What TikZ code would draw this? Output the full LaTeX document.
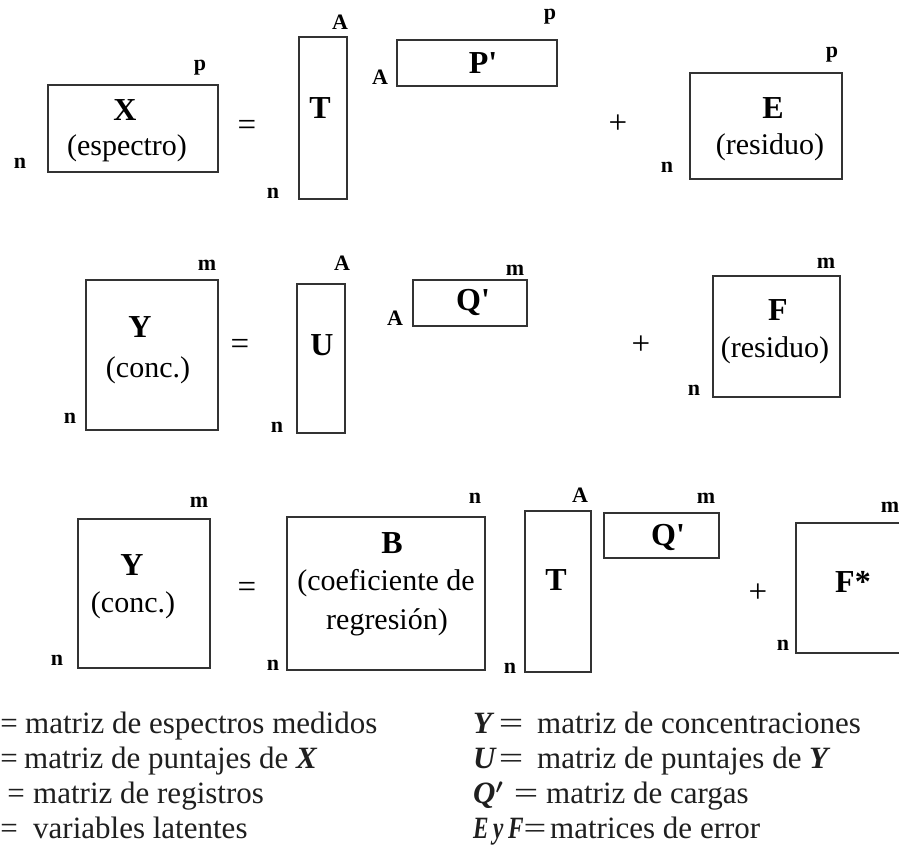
\documentclass[tikz,border=0pt]{standalone}
\usepackage{fontspec}
\setmainfont{Liberation Serif}
\begin{document}
\begin{tikzpicture}[x=1pt,y=-1pt,
  mat/.style={draw=black!80, line width=2.3pt, inner sep=0pt, rectangle},
  lbl/.style={font=\fontsize{22}{24}\selectfont\bfseries, inner sep=0pt},
  big/.style={font=\fontsize{32}{34}\selectfont\bfseries, inner sep=0pt},
  sub/.style={font=\fontsize{30}{32}\selectfont, inner sep=0pt},
  op/.style={font=\fontsize{33}{35}\selectfont, inner sep=0pt},
  leg/.style={font=\fontsize{31}{34}\selectfont, inner sep=0pt, anchor=base west, text=black!88},
  legeq/.style={font=\fontsize{31}{34}\selectfont, inner sep=0pt, anchor=base, text=black!88},
  sym/.style={font=\fontsize{31}{34}\selectfont\bfseries\itshape, inner sep=0pt, anchor=base west, text=black!88},
]
\useasboundingbox (0,0) rectangle (899,850);
\fill[white] (0,0) rectangle (899,850);
\clip (0,0) rectangle (899,850);

% ---------- Row 1 ----------
\node[mat, minimum width=170pt, minimum height=87pt] (X) at (133,128.5) {};
\node[big] (tX) at (125,110) {X};
\node[sub] (tXs) at (127,148) {(espectro)};
\node[lbl] (Xp) at (200,68) {p};
\node[lbl] (Xn) at (20,163) {n};
\node[op] (eq1) at (247,128) {=};

\node[mat, minimum width=48pt, minimum height=162pt] (T1) at (323,118) {};
\node[big] (tT1) at (320,108) {T};
\node[lbl] (T1A) at (340,22) {A};
\node[lbl] (T1n) at (273,193) {n};

\node[mat, minimum width=160pt, minimum height=46pt] (P) at (477,63) {};
\node[big] (tP) at (483,63) {P\textquotesingle};
\node[lbl] (PA) at (380,77) {A};
\node[lbl] (Pp) at (550,17) {p};

\node[op] (plus1) at (618,124) {+};

\node[mat, minimum width=152pt, minimum height=106pt] (E) at (766,126) {};
\node[big] (tE) at (773,108) {E};
\node[sub] (tEs) at (770,147) {(residuo)};
\node[lbl] (Ep) at (832,55) {p};
\node[lbl] (En) at (667,167) {n};

% ---------- Row 2 ----------
\node[mat, minimum width=132pt, minimum height=150pt] (Y1) at (152,355) {};
\node[big] (tY1) at (140,327) {Y};
\node[sub] (tY1s) at (148,370) {(conc.)};
\node[lbl] (Y1m) at (207,265) {m};
\node[lbl] (Y1n) at (70,418) {n};
\node[op] (eq2) at (240,347) {=};

\node[mat, minimum width=48pt, minimum height=149pt] (U) at (321,358.5) {};
\node[big] (tU) at (322,345) {U};
\node[lbl] (UA) at (342,263) {A};
\node[lbl] (Un) at (277,427) {n};

\node[mat, minimum width=114pt, minimum height=46pt] (Q1) at (470,303) {};
\node[big] (tQ1) at (473,302) {Q\textquotesingle};
\node[lbl] (Q1A) at (395,318) {A};
\node[lbl] (Q1m) at (515,270) {m};

\node[op] (plus2) at (641,345) {+};

\node[mat, minimum width=127pt, minimum height=121pt] (F) at (776.5,336.5) {};
\node[big] (tF) at (778,310) {F};
\node[sub] (tFs) at (775,350) {(residuo)};
\node[lbl] (Fm) at (826,263) {m};
\node[lbl] (Fn) at (694,390) {n};

% ---------- Row 3 ----------
\node[mat, minimum width=132pt, minimum height=149pt] (Y2) at (144,593.5) {};
\node[big] (tY2) at (132,565) {Y};
\node[sub] (tY2s) at (133,605) {(conc.)};
\node[lbl] (Y2m) at (199,502) {m};
\node[lbl] (Y2n) at (57,660) {n};
\node[op] (eq3) at (247,590) {=};

\node[mat, minimum width=198pt, minimum height=153pt] (B) at (386,593.5) {};
\node[big] (tB) at (392,543) {B};
\node[sub] (tBs1) at (386,583) {(coeficiente de};
\node[sub] (tBs2) at (387,622) {regresión)};
\node[lbl] (Bn1) at (475,498) {n};
\node[lbl] (Bn2) at (273,665) {n};

\node[mat, minimum width=66pt, minimum height=161pt] (T2) at (558,591.5) {};
\node[big] (tT2) at (556,580) {T};
\node[lbl] (T2A) at (580,495) {A};
\node[lbl] (T2n) at (510,668) {n};

\node[mat, minimum width=115pt, minimum height=45pt] (Q2) at (661.5,535.5) {};
\node[big] (tQ2) at (668,537) {Q\textquotesingle};
\node[lbl] (Q2m) at (706,498) {m};

\node[op] (plus3) at (758,593) {+};

\node[mat, minimum width=134pt, minimum height=130pt] (Fs) at (863,588) {};
\node[big] (tFs2) at (853,582) {F*};
\node[lbl] (Fsm) at (890,507) {m};
\node[lbl] (Fsn) at (783,645) {n};

% ---------- Legend ----------
\node[legeq] (l1e) at (9,733) {=};
\node[leg] (l1) at (25,733) {matriz de espectros medidos};
\node[legeq] (l2e) at (9,768) {=};
\node[leg] (l2) at (24,768) {matriz de puntajes de {\bfseries\itshape X}};
\node[legeq] (l3e) at (16,803) {=};
\node[leg] (l3) at (33,803) {matriz de registros};
\node[legeq] (l4e) at (9,838) {=};
\node[leg] (l4) at (33,838) {variables latentes};

\node[sym] (r1s) at (473,733) {Y};
\node[legeq] (r1e) at (511,733) {\scalebox{1.4}[1]{=}};
\node[leg] (r1) at (537,733) {matriz de concentraciones};
\node[sym] (r2s) at (473,768) {U};
\node[legeq] (r2e) at (511,768) {\scalebox{1.4}[1]{=}};
\node[leg] (r2) at (537,768) {matriz de puntajes de {\bfseries\itshape Y}};
\node[sym] (r3s) at (473,803) {Q{\boldmath$'$}};
\node[legeq] (r3e) at (526,803) {\scalebox{1.4}[1]{=}};
\node[leg] (r3) at (546,803) {matriz de cargas};
\node[sym] (r4s) at (473,838) {\scalebox{0.75}[1]{E\kern6pt y\kern6pt F}};
\node[legeq] (r4e) at (535,838) {\scalebox{1.3}[1]{=}};
\node[leg] (r4) at (550,838) {matrices de error};
\end{tikzpicture}
\end{document}
